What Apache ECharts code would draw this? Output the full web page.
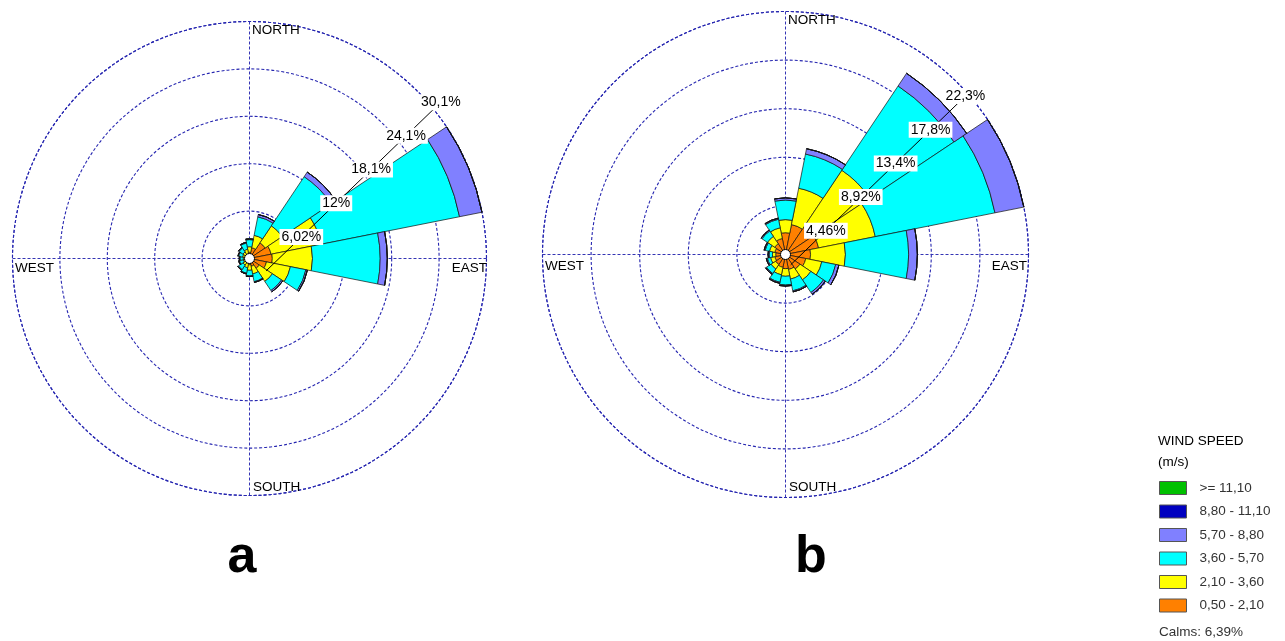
<!DOCTYPE html>
<html>
<head>
<meta charset="utf-8">
<script src="https://cdn.jsdelivr.net/npm/echarts@6.0.0/dist/echarts.min.js"></script>
<style>
  html, body { margin: 0; padding: 0; background: #fff; }
  #chart { width: 1285px; height: 641px; }
</style>
</head>
<body>
<div id="chart"></div>
<script>
// 16 compass sectors, clockwise from north
const directions = ['N', 'NNE', 'NE', 'ENE', 'E', 'ESE', 'SE', 'SSE', 'S', 'SSW', 'SW', 'WSW', 'W', 'WNW', 'NW', 'NNW']

// speed classes, legend order (fastest first) and colours
const speedClasses = ['>= 11,10', '8,80 - 11,10', '5,70 - 8,80', '3,60 - 5,70', '2,10 - 3,60', '0,50 - 2,10']
const classColors = ['#00c000', '#0000c0', '#8080ff', '#00ffff', '#ffff00', '#ff8000']

// rose a: frequency (%) per direction for each speed class
const roseA_050_210 = [0.8, 1.4, 2.4, 2.8, 2.9, 2.2, 1.5, 1.0, 0.8, 0.6, 0.5, 0.4, 0.4, 0.4, 0.5, 0.6]
const roseA_210_360 = [0.7, 1.6, 2.6, 6.5, 5.1, 3.1, 2.0, 1.0, 0.7, 0.6, 0.5, 0.4, 0.4, 0.5, 0.5, 0.6]
const roseA_360_570 = [0.9, 2.4, 7.5, 17.9, 8.6, 2.0, 1.4, 1.0, 0.7, 0.7, 0.7, 0.5, 0.4, 0.5, 0.6, 0.8]
const roseA_570_880 = [0.1, 0.3, 0.7, 2.9, 0.9, 0.2, 0.2, 0.1, 0.1, 0.1, 0.1, 0.1, 0.1, 0.1, 0.1, 0.1]
const roseA_880_1110 = [0, 0, 0, 0, 0, 0, 0, 0, 0, 0, 0, 0, 0, 0, 0, 0]
const roseA_1110 = [0, 0, 0, 0, 0, 0, 0, 0, 0, 0, 0, 0, 0, 0, 0, 0]
const roseA_rings = [6.02, 12.04, 18.06, 24.08, 30.1]
const roseA_ringLabels = ['6,02%', '12%', '18,1%', '24,1%', '30,1%']

// rose b
const roseB_050_210 = [2.0, 2.8, 3.2, 3.1, 2.3, 1.9, 1.6, 1.4, 1.3, 1.2, 1.1, 1.0, 0.9, 1.0, 1.2, 1.5]
const roseB_210_360 = [1.2, 3.4, 6.1, 5.3, 3.2, 1.5, 1.2, 0.9, 0.7, 0.7, 0.5, 0.4, 0.3, 0.5, 0.8, 1.0]
const roseB_360_570 = [1.8, 3.2, 9.3, 11.2, 5.8, 1.3, 1.4, 1.1, 0.8, 0.7, 0.5, 0.3, 0.3, 0.4, 0.6, 0.8]
const roseB_570_880 = [0.2, 0.5, 1.4, 2.7, 0.8, 0.3, 0.2, 0.1, 0.1, 0.1, 0.1, 0.1, 0.1, 0.1, 0.1, 0.1]
const roseB_880_1110 = [0, 0, 0, 0, 0, 0, 0, 0, 0, 0, 0, 0, 0, 0, 0, 0]
const roseB_1110 = [0, 0, 0, 0, 0, 0, 0, 0, 0, 0, 0, 0, 0, 0, 0, 0]
const roseB_rings = [4.46, 8.92, 13.38, 17.84, 22.3]
const roseB_ringLabels = ['4,46%', '8,92%', '13,4%', '17,8%', '22,3%']

const calms = 'Calms: 6,39%'

const crossLine = { color: '#3434b4', width: 1, type: [3, 2] }
const ringLine = { color: '#2626b0', width: 1.1, type: [3, 2] }
const font = 'Liberation Sans, Arial, sans-serif'

const polar = []
const angleAxis = []
const radiusAxis = []
const series = []
const graphic = []

// one rose = 3 polar systems: dashed grid, stacked bars, ring labels
// the ring labels sit on a diagonal slightly off the centre, like the original plot
function addRose(key, center, radius, rings, ringLabels, labelRose, classes) {
    const base = polar.length
    const max = rings[rings.length - 1]
    const step = rings[0]

    // grid: rings + N/E/S/W cross
    polar.push({ center: center, radius: [0, radius] })
    angleAxis.push({
        polarIndex: base, type: 'value', min: 0, max: 360, interval: 90, startAngle: 90,
        axisLine: { lineStyle: ringLine }, axisTick: { show: false }, axisLabel: { show: false },
        splitLine: { show: true, lineStyle: crossLine }
    })
    radiusAxis.push({
        polarIndex: base, type: 'value', min: 0, max: max, interval: step,
        axisLine: { show: false }, axisTick: { show: false }, axisLabel: { show: false },
        splitLine: { show: true, lineStyle: ringLine }
    })

    // bars, first sector centred on north
    polar.push({ center: center, radius: [0, radius] })
    angleAxis.push({
        polarIndex: base + 1, type: 'category', data: directions, startAngle: 90 + 360 / 32,
        axisLine: { show: false }, axisTick: { show: false }, axisLabel: { show: false }, splitLine: { show: false }
    })
    radiusAxis.push({ polarIndex: base + 1, type: 'value', min: 0, max: max, show: false })

    // stack from the slowest class outward
    for (let i = speedClasses.length - 1; i >= 0; i--) {
        series.push({
            name: speedClasses[i],
            type: 'bar',
            coordinateSystem: 'polar',
            polarIndex: base + 1,
            stack: key,
            barCategoryGap: '0%',
            silent: true,
            itemStyle: { color: classColors[i], borderColor: '#111', borderWidth: 0.7 },
            data: classes[i]
        })
    }

    // ring labels
    polar.push({ center: labelRose.center, radius: labelRose.radius })
    angleAxis.push({ polarIndex: base + 2, type: 'value', min: 0, max: 360, startAngle: labelRose.angle, show: false })
    radiusAxis.push({
        polarIndex: base + 2, type: 'value', min: 0, max: max, interval: step, z: 10,
        axisLine: { show: true, lineStyle: { color: '#000', width: 1 } },
        axisTick: { show: false }, splitLine: { show: false },
        axisLabel: {
            show: true, showMinLabel: false, margin: 0, align: 'center', verticalAlign: 'middle',
            color: '#000', fontSize: 14, fontFamily: font, backgroundColor: '#fff', padding: [1, 2],
            formatter: v => ringLabels[Math.round(v / step) - 1] || ''
        }
    })

    // calm circle in the middle
    graphic.push({
        type: 'circle', z: 100, shape: { cx: center[0], cy: center[1], r: 5 },
        style: { fill: '#fff', stroke: '#000', lineWidth: 1 }
    })
}

addRose('a', [249.5, 258.5], 237, roseA_rings, roseA_ringLabels,
    { center: [265, 272], radius: [2, 244.5], angle: 44 },
    [roseA_1110, roseA_880_1110, roseA_570_880, roseA_360_570, roseA_210_360, roseA_050_210])
addRose('b', [785.5, 254.5], 243, roseB_rings, roseB_ringLabels,
    { center: [791, 264.5], radius: [0, 242.5], angle: 44 },
    [roseB_1110, roseB_880_1110, roseB_570_880, roseB_360_570, roseB_210_360, roseB_050_210])

function text(str, x, y, align, size, color, weight) {
    graphic.push({
        type: 'text', z: 100,
        style: {
            text: str, x: x, y: y, align: align || 'left', verticalAlign: 'middle',
            font: (weight || 'normal') + ' ' + (size || 13.5) + 'px ' + font, fill: color || '#000'
        }
    })
}

// compass words
text('NORTH', 252, 30); text('SOUTH', 253, 487); text('WEST', 15, 268); text('EAST', 487, 268, 'right')
text('NORTH', 788, 20); text('SOUTH', 789, 487); text('WEST', 545, 266); text('EAST', 1027, 266, 'right')

// panel letters
text('a', 242, 558, 'center', 52, '#000', 'bold')
text('b', 811, 558, 'center', 52, '#000', 'bold')

// legend heading and calms
text('WIND SPEED', 1158, 441, 'left', 13.5)
text('(m/s)', 1158, 462, 'left', 13.5)
text(calms, 1159, 632, 'left', 13.5, '#333')

const chart = echarts.init(document.getElementById('chart'))
chart.setOption({
    animation: false,
    backgroundColor: '#fff',
    polar: polar,
    angleAxis: angleAxis,
    radiusAxis: radiusAxis,
    legend: {
        data: speedClasses,
        orient: 'vertical',
        left: 1154,
        top: 476,
        icon: 'rect',
        itemWidth: 27,
        itemHeight: 13,
        itemGap: 9.5,
        selectedMode: false,
        itemStyle: { borderColor: '#555', borderWidth: 1 },
        textStyle: { color: '#333', fontSize: 13.5, fontFamily: font, padding: [0, 0, 0, 8] }
    },
    series: series,
    graphic: graphic
})
</script>
</body>
</html>
